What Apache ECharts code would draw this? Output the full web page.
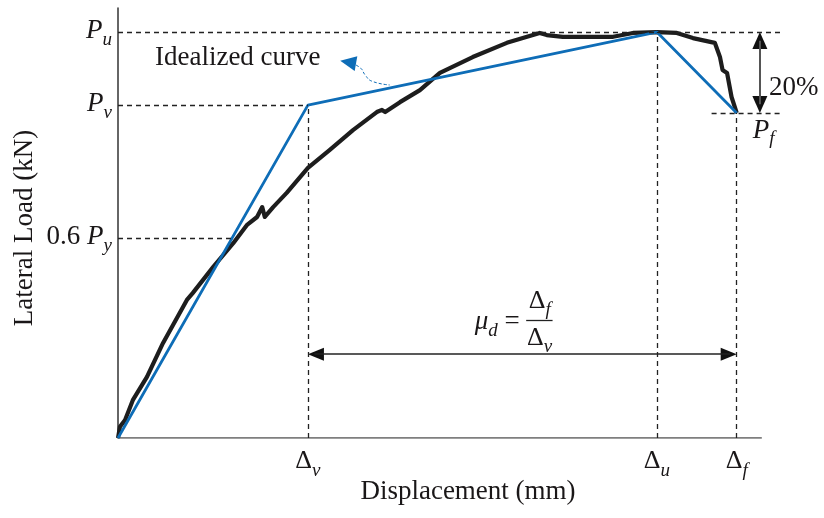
<!DOCTYPE html>
<html><head><meta charset="utf-8">
<script src="https://cdn.jsdelivr.net/npm/echarts@6/dist/echarts.min.js"></script>
<style>html,body{margin:0;padding:0;background:#fff}#c{width:824px;height:518px}</style>
</head><body><div id="c"></div>
<script>
// ---- data (displacement in arbitrary units 0..105, load 0..100) ----
const testCurve = [
  [0,0],[0.3,2.6],[1.1,4.2],[2.3,8.8],[4.5,14.2],[7.0,22.1],[10.7,32.1],[11.6,33.7],
  [14.8,39.8],[17.9,45.3],[20.0,49.5],[21.6,51.4],[22.4,53.7],[22.8,51.4],[24.1,53.7],
  [26.2,57.0],[29.5,62.8],[32.9,67.0],[36.5,71.6],[40.2,75.8],[41.0,76.3],[41.5,75.8],
  [43.8,78.1],[46.9,80.9],[50.0,84.9],[55.1,88.6],[60.4,91.9],[65.5,94.2],[66.6,93.7],
  [69.1,93.3],[71.7,93.3],[76.9,93.3],[80.0,94.2],[83.7,94.4],[86.8,94.2],[89.3,93.0],
  [92.7,91.9],[93.5,88.6],[93.9,85.6],[94.6,84.9],[95.3,79.3],[96.1,75.6]
];
const idealCurve = [[0,0],[29.5,77.4],[83.7,94.4],[96.1,75.6]];
const dy = 29.5, du = 83.7, df = 96.1;      // Δy, Δu, Δf
const py = 77.4, pu = 94.4, pf = 75.6;      // Py, Pu, Pf
const py06 = 46.4;                          // 0.6 Py
const xAxisEnd = 100, dashEnd = 103.3;
const arrow20X = 99.7, ductY = 19.5;
const pointerCurve = [[36.3,87.2],[37.7,86.0],[38.4,84.4],[39.4,83.0],[42.2,82.1]];

const F = 'Liberation Serif', C = '#1a1718', BLUE = '#0e6db7';
const rich = {
  r: {fontFamily:F, fontSize:27, color:C, lineHeight:30, verticalAlign:'top'},
  i: {fontFamily:F, fontStyle:'italic', fontSize:27, color:C, lineHeight:30, verticalAlign:'top'},
  d: {fontFamily:F, fontSize:26, color:C, lineHeight:30, verticalAlign:'top'},
  s: {fontFamily:F, fontStyle:'italic', fontSize:19, color:C, lineHeight:20, padding:[13,0,0,0], verticalAlign:'top'},
  t: {fontFamily:F, fontSize:27, color:C}
};
const UP = 'path://M5,0 L10,16 L0,16 Z';

function ann(x, y, fmt, pos, dist, off) {
  return {value:[x,y], label:{show:true, color:C, formatter:fmt, position:pos, distance:dist||0, offset:off||[0,0], rich:rich}};
}
const dash = {type:[5,4], color:'#222', width:1.3};
function seg(a, b, style) { return [{coord:a, lineStyle:style}, {coord:b}]; }

const option = {
  animation:false,
  grid:{left:118, right:30, top:8, bottom:80},
  xAxis:{type:'value', min:0, max:105, axisLine:{show:false}, axisTick:{show:false}, axisLabel:{show:false}, splitLine:{show:false},
    name:'Displacement (mm)', nameLocation:'middle', nameGap:40,
    nameTextStyle:{fontFamily:F, fontSize:27, color:C, padding:[0,0,0,24]}},
  yAxis:{type:'value', min:0, max:100, axisLine:{show:true, lineStyle:{color:'#333', width:1.5}}, axisTick:{show:false}, axisLabel:{show:false}, splitLine:{show:false},
    name:'Lateral Load (kN)', nameLocation:'middle', nameGap:80,
    nameTextStyle:{fontFamily:F, fontSize:27, color:C, padding:[0,10,0,0]}},
  series:[
    { type:'line', data:[[0,0],[xAxisEnd,0]], symbol:'none', lineStyle:{color:'#555', width:1.5}, silent:true,
      markLine:{silent:true, symbol:['none','none'], label:{show:false}, lineStyle:dash, data:[
        seg([0,pu],[dashEnd,pu], dash),
        seg([0,py],[dy,py], dash),
        seg([0,py06],[17.7,py06], dash),
        seg([92.2,pf],[dashEnd,pf], dash),
        seg([dy,0],[dy,py], dash),
        seg([du,0],[du,pu], dash),
        seg([df,0],[df,pf], dash),
        seg([arrow20X,pu-2],[arrow20X,pf+2], {type:'solid', color:'#555', width:2}),
        seg([dy+1,ductY],[df-1,ductY], {type:'solid', color:'#222', width:1.5}),
        seg([63.4,27.4],[67.5,27.4], {type:'solid', color:'#222', width:1.3})
      ]}},
    { type:'line', data:testCurve, symbol:'none', lineStyle:{color:'#1d1d1d', width:4.2, join:'round'}, silent:true },
    { type:'line', data:idealCurve, symbol:'none', lineStyle:{color:BLUE, width:2.8}, silent:true },
    { type:'line', data:pointerCurve, smooth:true, symbol:'none', lineStyle:{color:BLUE, width:1, type:[3,2]}, silent:true },
    // arrow heads
    { type:'scatter', silent:true, clip:false, symbol:UP, itemStyle:{color:'#111', opacity:1}, data:[
        {value:[arrow20X,pu], symbolSize:[15,17], symbolOffset:[0,8.5]},
        {value:[arrow20X,pf], symbolSize:[15,17], symbolRotate:180, symbolOffset:[0,-8.5]},
        {value:[dy,ductY], symbolSize:[13,16], symbolRotate:90, symbolOffset:[8,0]},
        {value:[df,ductY], symbolSize:[13,16], symbolRotate:-90, symbolOffset:[-8,0]},
        {value:[34.5,87.4], symbolSize:[15,16], symbolRotate:80, symbolOffset:[8,0], itemStyle:{color:BLUE, opacity:1}}
      ]},
    // text annotations
    { type:'scatter', silent:true, clip:false, symbolSize:0, itemStyle:{opacity:1}, data:[
        ann(0,pu,'{i|P}{s|u}','left',6),
        ann(0,py,'{i|P}{s|ν}','left',6),
        ann(0,py06,'{r|0.6 }{i|P}{s|y}','left',6),
        ann(dy,0,'{d|Δ}{s|ν}','bottom',10),
        ann(du,0,'{d|Δ}{s|u}','bottom',10),
        ann(df,0,'{d|Δ}{s|f}','bottom',10),
        ann(df,pf,'{i|P}{s|f}','bottom',4,[27,0]),
        ann(arrow20X,81.4,'{t|20%}','right',9),
        ann(18.6,88.4,'{t|Idealized curve}','inside',0),
        ann(58.9,26.6,'{i|μ}{s|d}{r| =}','inside',0),
        ann(65.5,31.4,'{d|Δ}{s|f}','inside',0),
        ann(65.5,22.8,'{d|Δ}{s|ν}','inside',0)
      ]}
  ]
};
const chart = echarts.init(document.getElementById('c'), null, {renderer:'canvas'});
chart.setOption(option);
</script></body></html>
